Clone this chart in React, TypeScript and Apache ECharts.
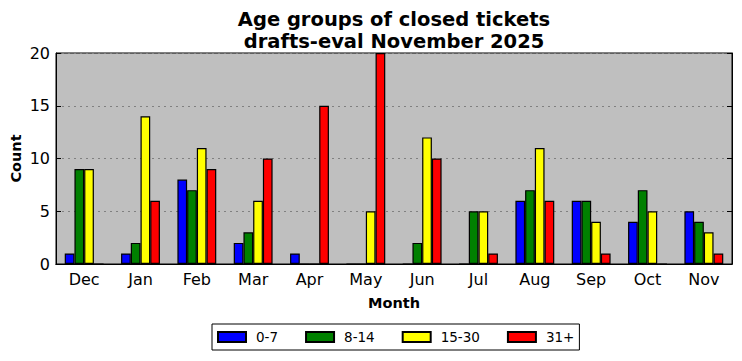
import React, { useEffect, useRef } from "react";
import * as echarts from "echarts";

const months = ["Dec", "Jan", "Feb", "Mar", "Apr", "May", "Jun", "Jul", "Aug", "Sep", "Oct", "Nov"];
const age0to7 = [1, 1, 8, 2, 1, 0, 0, 0, 6, 6, 4, 5];
const age8to14 = [9, 2, 7, 3, 0, 0, 2, 5, 7, 6, 7, 4];
const age15to30 = [9, 14, 11, 6, 0, 5, 12, 5, 11, 4, 5, 3];
const age31plus = [0, 6, 9, 10, 15, 20, 10, 1, 6, 1, 0, 1];
const seriesNames = ["0-7", "8-14", "15-30", "31+"];
const seriesColors = ["#0000ff", "#008000", "#ffff00", "#ff0000"];

const FONT = "DejaVu Sans";

export default function App() {
  const ref = useRef<HTMLDivElement>(null);
  useEffect(() => {
    if (!ref.current) return;
    const chart = echarts.init(ref.current, null, { renderer: "svg" });
    const data = [age0to7, age8to14, age15to30, age31plus];
    chart.setOption({
      animation: false,
      backgroundColor: "#ffffff",
      title: {
        text: "Age groups of closed tickets\ndrafts-eval November 2025",
        left: 394,
        textAlign: "center",
        top: 8,
        padding: 0,
        textStyle: { fontFamily: FONT, fontSize: 19.5, fontWeight: "bold", color: "#000", lineHeight: 22 },
      },
      legend: {
        bottom: 11,
        left: 212,
        data: seriesNames,
        itemWidth: 28,
        itemHeight: 10,
        itemGap: 27,
        borderColor: "#000",
        borderWidth: 1,
        borderRadius: 0,
        padding: [6, 5, 6, 5],
        icon: "rect",
        textStyle: { fontFamily: FONT, fontSize: 13.5, color: "#000", padding: [0, 0, 0, 5] },
      },
      grid: {
        left: 56,
        right: 10,
        top: 53,
        bottom: 97,
        outerBoundsMode: "none",
        containLabel: false,
        show: true,
        backgroundColor: "#bfbfbf",
        borderColor: "#000",
        borderWidth: 1,
      },
      xAxis: [
        {
          type: "category",
          data: months,
          name: "Month",
          nameLocation: "middle",
          nameGap: 31,
          nameMoveOverlap: false,
          nameTextStyle: { fontFamily: FONT, fontSize: 14.5, fontWeight: "bold", color: "#000" },
          axisLine: { lineStyle: { color: "#000" } },
          axisTick: { inside: true, alignWithLabel: true, length: 5, lineStyle: { color: "#000" } },
          axisLabel: { fontFamily: FONT, fontSize: 16, color: "#000", margin: 7 },
        },
        {
          type: "category",
          data: months,
          position: "top",
          axisLine: { lineStyle: { color: "#000" } },
          axisTick: { inside: true, alignWithLabel: true, length: 5, lineStyle: { color: "#000" } },
          axisLabel: { show: false },
        },
      ],
      yAxis: [
        {
          type: "value",
          min: 0,
          max: 20,
          interval: 5,
          name: "Count",
          nameLocation: "middle",
          nameGap: 33,
          nameMoveOverlap: false,
          nameTextStyle: { fontFamily: FONT, fontSize: 14.5, fontWeight: "bold", color: "#000" },
          axisLine: { show: true, lineStyle: { color: "#000" } },
          axisTick: { show: true, inside: true, length: 5, lineStyle: { color: "#000" } },
          axisLabel: { fontFamily: FONT, fontSize: 16, color: "#000", margin: 6 },
          splitLine: { show: true, lineStyle: { color: "#808080", type: [2, 4], width: 1 } },
        },
        {
          type: "value",
          min: 0,
          max: 20,
          interval: 5,
          position: "right",
          axisLine: { show: true, lineStyle: { color: "#000" } },
          axisTick: { show: true, inside: true, length: 5, lineStyle: { color: "#000" } },
          axisLabel: { show: false },
          splitLine: { show: false },
        },
      ],
      series: seriesNames.map((name, i) => ({
        name,
        type: "bar",
        xAxisIndex: 0,
        yAxisIndex: 0,
        data: data[i],
        barGap: "0%",
        barCategoryGap: "31%",
        itemStyle: { color: seriesColors[i], borderColor: "#000", borderWidth: 1.2 },
      })),
    });
    return () => chart.dispose();
  }, []);
  return <div ref={ref} style={{ position: "fixed", left: 0, top: 0, width: 742, height: 361 }} />;
}
